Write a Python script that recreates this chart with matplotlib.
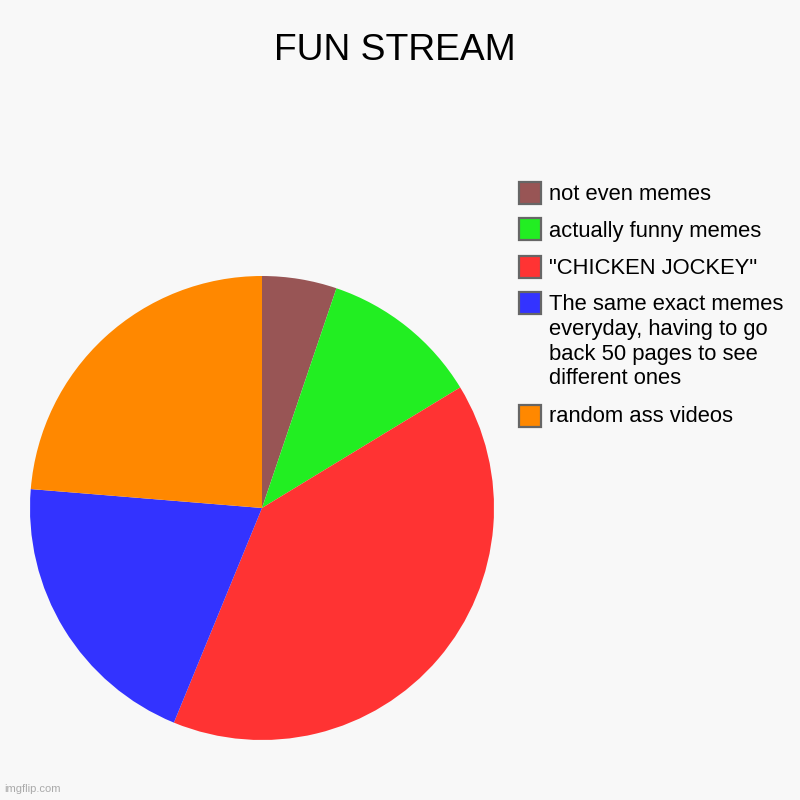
import matplotlib.pyplot as plt
from matplotlib.patches import Rectangle

plt.rcParams['font.family'] = ['Liberation Sans', 'DejaVu Sans']

labels = ['not even memes',
          'actually funny memes',
          '"CHICKEN JOCKEY"',
          'The same exact memes\neveryday, having to go\nback 50 pages to see\ndifferent ones',
          'random ass videos']
values = [5.2, 11.1, 39.9, 20.1, 23.7]
colors = ['#985555', '#22ee22', '#ff3333', '#3333ff', '#ff8800']

W = H = 800
bg = '#f8f8f8'

fig = plt.figure(figsize=(8, 8), dpi=100, facecolor=bg)


def fx(x):
    return x / W


def fy(y):
    return 1 - y / H


# pie: centre (262, 508), radius 232 px
cx, cy, r = 262, 508, 232
ax = fig.add_axes([fx(cx - r), fy(cy + r), 2 * r / W, 2 * r / H])
ax.set_facecolor(bg)
ax.pie(values, colors=colors, startangle=90, counterclock=False,
       wedgeprops=dict(linewidth=0))
ax.set_xlim(-1, 1)
ax.set_ylim(-1, 1)
ax.set_aspect('equal')
ax.axis('off')

fig.text(fx(395), fy(59.5), 'FUN STREAM', fontsize=26.8, ha='center',
         va='baseline', color='#000000')

# legend, drawn by hand
box_tops = [181.5, 218.5, 255.5, 292.5, 405]
baselines = [200.5, 237, 273.5, 310, 422.5]
for lab, col, bt, bl in zip(labels, colors, box_tops, baselines):
    fig.patches.append(Rectangle((fx(519), fy(bt + 22)), 22 / W, 22 / H,
                                 transform=fig.transFigure, facecolor=col,
                                 edgecolor='#666666', linewidth=1.6))
    for i, line in enumerate(lab.split('\n')):
        fig.text(fx(549), fy(bl + i * 24.8), line, fontsize=15.8,
                 ha='left', va='baseline', color='#000000')

fig.text(fx(4), fy(792.5), 'imgflip.com', fontsize=8, color='#aaaaaa',
         ha='left', va='baseline')

fig.savefig('out.png', dpi=100, facecolor=bg)
